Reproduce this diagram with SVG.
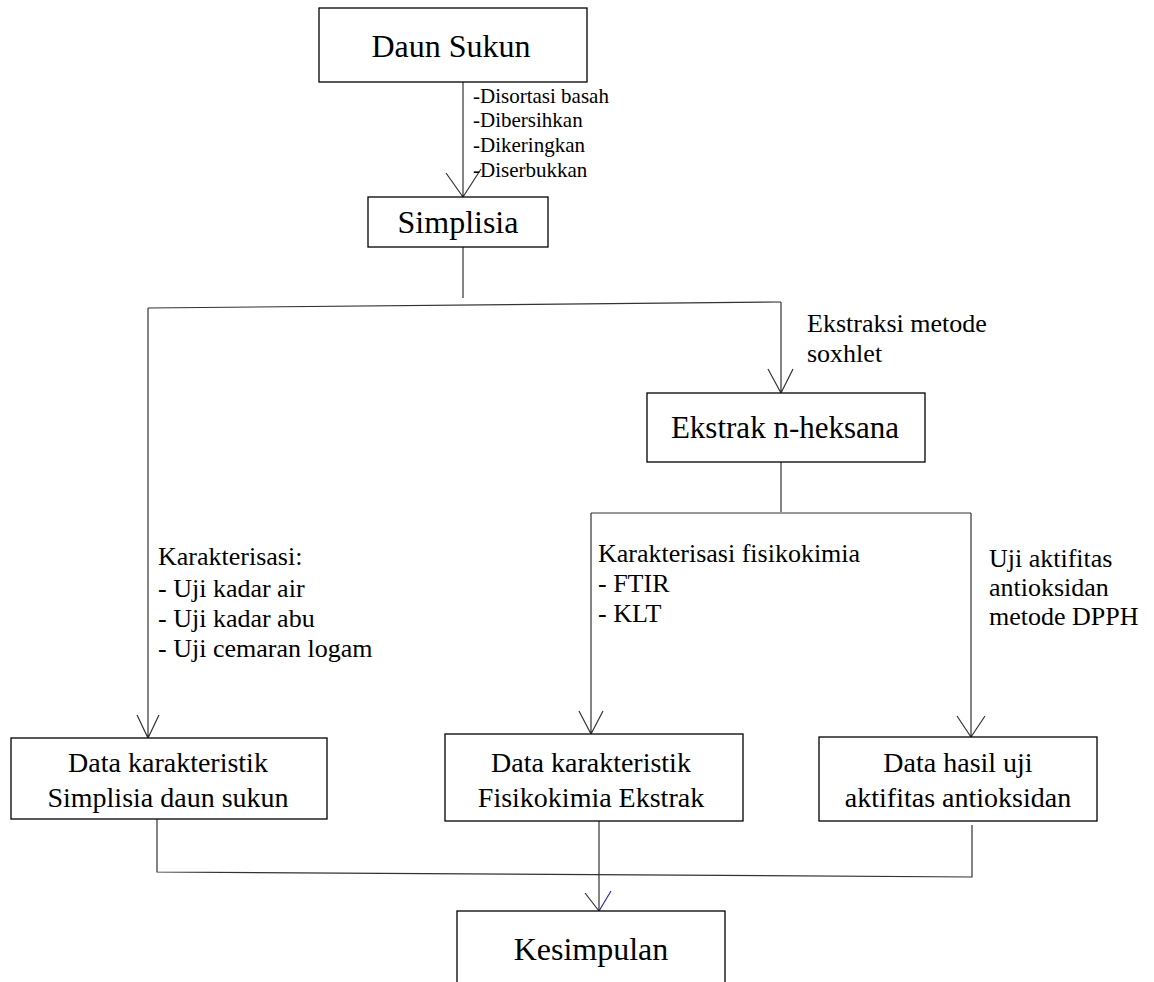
<svg xmlns="http://www.w3.org/2000/svg" width="1154" height="982" viewBox="0 0 1154 982">
<style>
.box{fill:#fff;stroke:#000;stroke-width:1.3}
.ln{fill:none;stroke:#333;stroke-width:1.2}
text{font-family:'Liberation Serif','DejaVu Serif',serif;fill:#000}
.big{font-size:32px;text-anchor:middle}
.mid{font-size:28px;text-anchor:middle}
.lab{font-size:26px}
.sm{font-size:21px}
</style>
<rect width="1154" height="982" fill="#fff"/>
<g id="connectors">
<path class="ln" d="M463 82 V197 M446 173 L463 197 L481 169"/>
<path class="ln" d="M463 247 V298"/>
<path class="ln" d="M148 308 L781 302"/>
<path class="ln" d="M781 302 V393 M768 369 L781 393 L793 369"/>
<path class="ln" d="M148 308 V738 M137 715 L148 738 L159 715"/>
<path class="ln" d="M781 462 V512"/>
<path class="ln" d="M591 513 H971"/>
<path class="ln" d="M591 513 V734 M579 711 L591 734 L603 711"/>
<path class="ln" d="M971 513 V737 M957 716 L971 737 L985 716"/>
<path class="ln" d="M157 819 V872 L972 877 V825"/>
<path class="ln" d="M599 821 V911 M585 893 L599 911"/>
<path fill="none" stroke="#2a2aa8" stroke-width="1.2" d="M599 911 L611 891"/>
</g>
<g id="labels">
<text class="sm" x="473" y="103">-Disortasi basah</text>
<text class="sm" x="473" y="127">-Dibersihkan</text>
<text class="sm" x="473" y="152">-Dikeringkan</text>
<text class="sm" x="473" y="177">-Diserbukkan</text>
<text class="lab" x="807" y="332">Ekstraksi metode</text>
<text class="lab" x="807" y="362">soxhlet</text>
<text class="lab" x="158" y="565">Karakterisasi:</text>
<text class="lab" x="158" y="597">- Uji kadar air</text>
<text class="lab" x="158" y="627">- Uji kadar abu</text>
<text class="lab" x="158" y="657">- Uji cemaran logam</text>
<text class="lab" x="598" y="562">Karakterisasi fisikokimia</text>
<text class="lab" x="598" y="592">- FTIR</text>
<text class="lab" x="598" y="622">- KLT</text>
<text class="lab" x="989" y="567">Uji aktifitas</text>
<text class="lab" x="989" y="596">antioksidan</text>
<text class="lab" x="989" y="625">metode DPPH</text>
</g>
<g id="daun-sukun">
<rect class="box" x="319" y="8" width="268" height="74"/>
<text class="big" x="451" y="57">Daun Sukun</text>
</g>
<g id="simplisia">
<rect class="box" x="368" y="197" width="180" height="50"/>
<text class="big" x="458" y="233">Simplisia</text>
</g>
<g id="ekstrak">
<rect class="box" x="647" y="393" width="278" height="69"/>
<text class="big" x="785" y="438" style="font-size:31px">Ekstrak n-heksana</text>
</g>
<g id="data-simplisia">
<rect class="box" x="11" y="738" width="316" height="81"/>
<text class="mid" x="168" y="772">Data karakteristik</text>
<text class="mid" x="168" y="807">Simplisia daun sukun</text>
</g>
<g id="data-fisikokimia">
<rect class="box" x="445" y="734" width="298" height="87"/>
<text class="mid" x="591" y="772">Data karakteristik</text>
<text class="mid" x="591" y="807">Fisikokimia Ekstrak</text>
</g>
<g id="data-antioksidan">
<rect class="box" x="819" y="737" width="278" height="84"/>
<text class="mid" x="958" y="772">Data hasil uji</text>
<text class="mid" x="958" y="807">aktifitas antioksidan</text>
</g>
<g id="kesimpulan">
<rect class="box" x="457" y="911" width="268" height="100"/>
<text class="big" x="591" y="960">Kesimpulan</text>
</g>
</svg>
